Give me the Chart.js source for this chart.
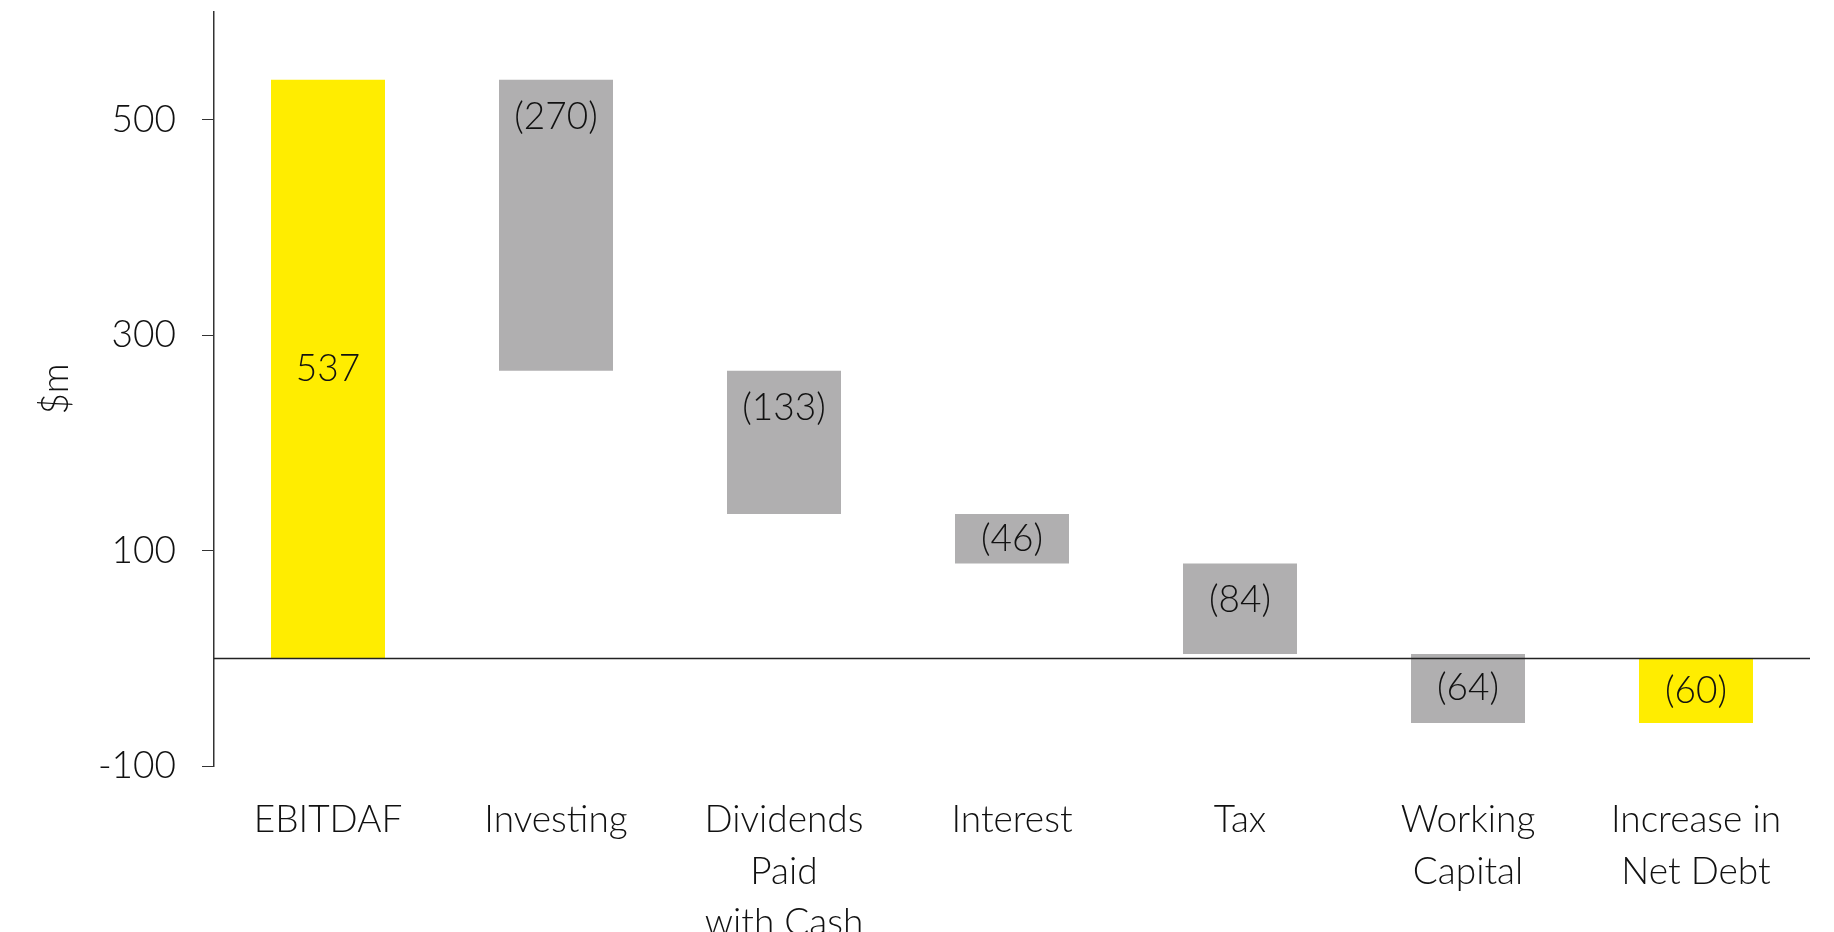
<!DOCTYPE html>
<html>
<head>
<meta charset="utf-8">
<script src="https://cdn.jsdelivr.net/npm/chart.js@4.4.1/dist/chart.umd.min.js"></script>
<style>
  html, body { margin: 0; padding: 0; background: #fff; }
  #wrap { width: 1834px; height: 932px; overflow: hidden; }
</style>
</head>
<body>
<div id="wrap"><canvas id="waterfall" width="1834" height="932"></canvas></div>
<script>
// datos del grafico (cascada de flujo de caja)
const categorias = [
  "EBITDAF",
  "Investing",
  ["Dividends", "Paid", "with Cash"],
  "Interest",
  "Tax",
  ["Working", "Capital"],
  ["Increase in", "Net Debt"]
];
const valores = [537, -270, -133, -46, -84, -64, -60];
const esTotal = [true, false, false, false, false, false, true];
const ticksY = [-100, 100, 300, 500];

const AMARILLO = "#FFED00";
const GRIS = "#B0AFB0";
const FUENTE = "Lato, 'Open Sans', sans-serif";
const TAM = 37;
const PESO = "300";

// barras flotantes: cada paso arranca donde termino el anterior
let acumulado = 0;
const barras = valores.map((v, i) => {
  if (esTotal[i]) {
    acumulado = i === 0 ? v : acumulado;
    return [0, v];
  }
  const desde = acumulado;
  acumulado += v;
  return [desde, acumulado];
});

const formato = v => v < 0 ? "(" + Math.abs(v) + ")" : String(v);

const lineaCero = {
  id: "lineaCero",
  afterDatasetsDraw(chart) {
    const { ctx, chartArea, scales } = chart;
    const y = Math.round(scales.y.getPixelForValue(0)) + 0.5;
    ctx.save();
    ctx.strokeStyle = "#222";
    ctx.lineWidth = 1.5;
    ctx.beginPath();
    ctx.moveTo(chartArea.left, y);
    ctx.lineTo(chartArea.right, y);
    ctx.stroke();
    ctx.restore();
  }
};

const etiquetas = {
  id: "etiquetas",
  afterDatasetsDraw(chart) {
    const { ctx } = chart;
    const meta = chart.getDatasetMeta(0);
    ctx.save();
    ctx.font = PESO + " " + TAM + "px " + FUENTE;
    ctx.fillStyle = "#111";
    ctx.textAlign = "center";
    ctx.textBaseline = "middle";
    meta.data.forEach((el, i) => {
      const top = Math.min(el.y, el.base);
      const h = Math.abs(el.base - el.y);
      const y = esTotal[i] ? top + h / 2 : top + Math.min(h / 2, 37);
      ctx.fillText(formato(valores[i]), el.x, y);
    });
    ctx.restore();
  }
};

new Chart(document.getElementById("waterfall"), {
  type: "bar",
  data: {
    labels: categorias,
    datasets: [{
      data: barras,
      backgroundColor: valores.map((_, i) => esTotal[i] ? AMARILLO : GRIS),
      borderWidth: 0,
      categoryPercentage: 1,
      barPercentage: 0.5
    }]
  },
  options: {
    responsive: false,
    animation: false,
    devicePixelRatio: 1,
    layout: { padding: { top: 12, right: 24, left: 0, bottom: 0 } },
    plugins: {
      legend: { display: false },
      tooltip: { enabled: false }
    },
    scales: {
      x: {
        grid: { display: false },
        border: { display: false },
        ticks: {
          color: "#111",
          padding: 20,
          maxRotation: 0,
          autoSkip: false,
          font: { family: FUENTE, size: TAM, weight: PESO, lineHeight: 1.4 }
        },
        afterFit(scale) { scale.height = 166; }
      },
      y: {
        min: -100,
        max: 600,
        afterBuildTicks(scale) { scale.ticks = ticksY.map(v => ({ value: v })); },
        grid: { drawOnChartArea: false, drawTicks: true, tickLength: 12, color: "#333" },
        border: { display: true, color: "#333", width: 1.5 },
        ticks: {
          color: "#111",
          padding: 26,
          font: { family: FUENTE, size: TAM, weight: PESO }
        },
        title: {
          display: true,
          text: "$m",
          color: "#111",
          padding: { top: 34, bottom: 0 },
          font: { family: FUENTE, size: TAM, weight: PESO }
        },
        afterFit(scale) {
          scale.width = 214;
          scale.paddingTop = 0;
          scale.paddingBottom = 0;
        }
      }
    }
  },
  plugins: [lineaCero, etiquetas]
});
</script>
</body>
</html>
